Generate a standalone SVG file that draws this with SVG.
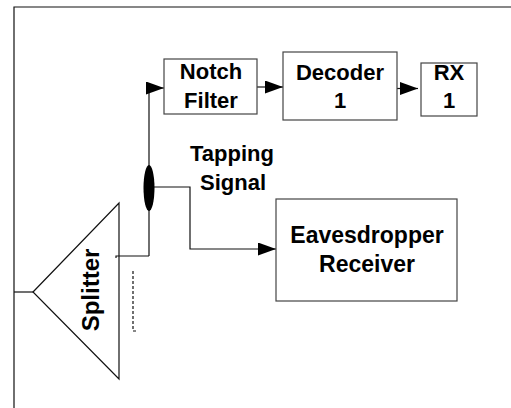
<svg xmlns="http://www.w3.org/2000/svg" width="511" height="408" viewBox="0 0 511 408">
<style>
.box{fill:#fff;stroke:#444;stroke-width:1.2}
.ln{fill:none;stroke:#111;stroke-width:1.2}
.t{font-family:"Liberation Sans",Arial,sans-serif;font-weight:bold;font-size:22px;fill:#000;text-anchor:middle}
</style>
<defs>
<marker id="ah" markerWidth="18" markerHeight="13" refX="18" refY="6.5" orient="auto" markerUnits="userSpaceOnUse">
<path d="M0,0 L18,6.5 L0,13 Z" fill="#000"/>
</marker>
</defs>
<rect width="511" height="408" fill="#fff"/>
<g id="frame">
<path class="ln" d="M14,408 V7 H511" stroke-width="1.5"/>
</g>
<g id="connectors">
<path class="ln" d="M149,256 V88 H164" marker-end="url(#ah)"/>
<path class="ln" d="M257,87 H283" stroke="#666" marker-end="url(#ah)"/>
<path class="ln" d="M397,88.5 H418" marker-end="url(#ah)"/>
<path class="ln" d="M149,187 H190 V249 H276" marker-end="url(#ah)"/>
<path class="ln" d="M149,256 H116 V258"/>
<path class="ln" d="M14,292 H33"/>
<path class="ln" d="M133,271 V331 H137" stroke-dasharray="3,2"/>
</g>
<g id="coupler">
<ellipse cx="149" cy="188" rx="5.5" ry="23" fill="#000"/>
</g>
<g id="splitter">
<polygon points="33,292 119,203 119,379" fill="none" stroke="#111" stroke-width="1.2"/>
<text class="t" transform="translate(99,290) rotate(-90)" style="font-size:24px">Splitter</text>
</g>
<g id="notch">
<rect class="box" x="164" y="59" width="93" height="55"/>
<text class="t" x="211" y="79">Notch</text>
<text class="t" x="211" y="108">Filter</text>
</g>
<g id="decoder">
<rect class="box" x="283" y="52" width="114" height="68"/>
<text class="t" x="340" y="80">Decoder</text>
<text class="t" x="340" y="108">1</text>
</g>
<g id="rx">
<rect class="box" x="421" y="63" width="56" height="53"/>
<text class="t" x="449" y="80">RX</text>
<text class="t" x="449" y="108">1</text>
</g>
<g id="tapping">
<text class="t" x="232" y="161">Tapping</text>
<text class="t" x="233" y="190">Signal</text>
</g>
<g id="eaves">
<rect class="box" x="276" y="199" width="181" height="102"/>
<text class="t" x="367" y="243" style="font-size:23px">Eavesdropper</text>
<text class="t" x="367" y="272" style="font-size:23px">Receiver</text>
</g>
</svg>
